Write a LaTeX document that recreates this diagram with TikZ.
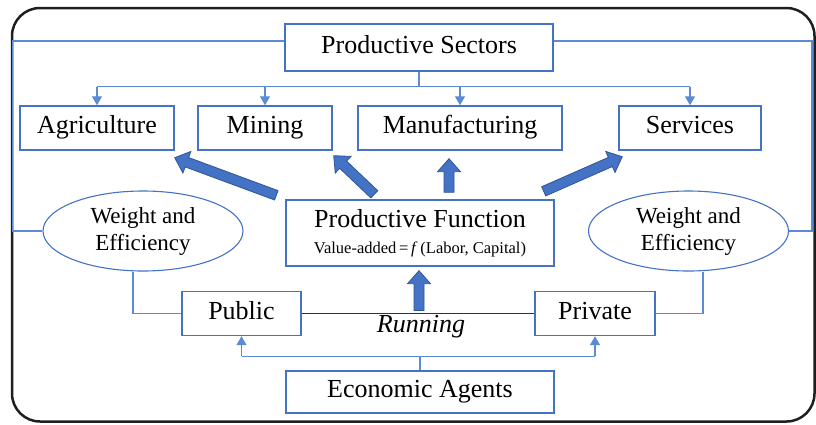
\documentclass[tikz,border=0pt]{standalone}
\usepackage{fontspec}
\setmainfont{Liberation Serif}
\usetikzlibrary{shapes.geometric,calc,arrows.meta}
\definecolor{boxblue}{HTML}{4472C4}
\definecolor{lineblue}{HTML}{5B8BD5}
\definecolor{darkblue}{HTML}{2F5597}
\newcommand\fatarrow[2]{%
  \path let \p1=($(#2)-(#1)$), \n1={veclen(\x1,\y1)}, \n2={atan2(\y1,\x1)} in
    \pgfextra{\xdef\fatlen{\n1}\xdef\fatang{\n2}};
  \begin{scope}[shift={(#1)}, rotate=\fatang]
    \filldraw[fatstyle] (0pt,5pt) -- ({(\fatlen-13)*1pt},5pt) -- ({(\fatlen-13)*1pt},11.5pt)
      -- ({\fatlen*1pt},0pt) -- ({(\fatlen-13)*1pt},-11.5pt) -- ({(\fatlen-13)*1pt},-5pt)
      -- (0pt,-5pt) -- cycle;
  \end{scope}}
\begin{document}
\begin{tikzpicture}[x=1pt,y=-1pt,
  box/.style={draw=boxblue, line width=1.4pt, fill=white, inner sep=0pt,
    font=\fontsize{26}{30}\selectfont},
  lbl/.style={box, text height=17pt, text depth=6pt},
  ell/.style={ellipse, draw=boxblue, line width=1.1pt, fill=white, inner sep=0pt,
    align=center, font=\fontsize{23}{27}\selectfont,
    minimum width=200pt, minimum height=80pt},
  conn/.style={draw=lineblue, line width=1.3pt},
  conarr/.style={conn, -{Triangle[width=10pt,length=9pt]}},
  fatstyle/.style={draw=darkblue, fill=boxblue, line width=0.8pt, line join=miter},
  darkline/.style={draw=black!80, line width=1.1pt}
]
\useasboundingbox (0,0) rectangle (816,424);
\draw[line width=2.5pt, black!88, rounded corners=28pt] (12,8) rectangle (814.5,421.5);

% nodes
\node[lbl, minimum width=268pt, minimum height=47pt] (ps) at (419,47.5) {Productive Sectors};
\node[lbl, minimum width=154pt, minimum height=44pt] (agri) at (97,128) {Agriculture};
\node[lbl, minimum width=134pt, minimum height=44pt] (mining) at (265,128) {Mining};
\node[lbl, minimum width=204pt, minimum height=44pt] (manu) at (460,128) {Manufacturing};
\node[lbl, minimum width=142pt, minimum height=44pt] (serv) at (690,128) {Services};
\node[box, minimum width=268pt, minimum height=66pt, align=center] (pf) at (420,233)
  {Productive Function\\[-4pt]{\fontsize{16.5}{18}\selectfont Value-added\,=\,\textit{f}\,(Labor, Capital)}};
\node[ell] (wl) at (143,231) {Weight and\\Efficiency};
\node[ell] (wr) at (688.5,231) {Weight and\\Efficiency};
\node[lbl, minimum width=119pt, minimum height=44pt] (pub) at (241.5,313.5) {Public};
\node[lbl, minimum width=120pt, minimum height=44pt] (priv) at (595,313.5) {Private};
\node[lbl, minimum width=268pt, minimum height=42pt] (ea) at (420,392) {Economic Agents};
\node[font=\fontsize{26}{30}\selectfont\itshape, inner sep=0pt] (run) at (421,327) {Running};

% top distribution
\coordinate (bus) at ($(ps.south)+(0,15)$);
\draw[conn] (ps.south) -- (bus);
\draw[conn] (bus -| agri.north) -- (bus -| serv.north);
\draw[conarr] (bus -| agri.north) -- (agri.north);
\draw[conarr] (bus -| mining.north) -- (mining.north);
\draw[conarr] (bus -| manu.north) -- (manu.north);
\draw[conarr] (bus -| serv.north) -- (serv.north);

% side loops
\draw[conn] ([yshift=6.5pt]ps.west) -| ([xshift=-30pt]wl.west) -- (wl.west);
\draw[conn] ([yshift=6.5pt]ps.east) -| ([xshift=23pt]wr.east) -- (wr.east);
\draw[conn] ([xshift=-10pt]wl.south) |- (pub.west);
\draw[conn] (priv.east) -| ([xshift=14.5pt]wr.south);

% running line
\draw[darkline] (pub.east) -- (priv.west);

% agents distribution
\coordinate (abus) at ($(ea.north)+(0,-14)$);
\draw[conn] (ea.north) -- (abus);
\draw[conn] (abus -| pub.south) -- (abus -| priv.south);
\draw[conarr] (abus -| pub.south) -- (pub.south);
\draw[conarr] (abus -| priv.south) -- (priv.south);

% fat arrows
\coordinate (mid) at ($(pub.east)!0.5!(priv.west)$);
\coordinate (f1a) at ($(pf.north west)+(-9,-4)$);
\coordinate (f1b) at ($(agri.south east)+(0,7)$);
\coordinate (f2a) at ($(pf.north west)+(89,-5)$);
\coordinate (f2b) at ($(mining.south east)+(1,5)$);
\coordinate (f3a) at ($(pf.north)+(29,-7)$);
\coordinate (f3b) at ($(manu.south)+(-11,8)$);
\coordinate (f4a) at ($(pf.north east)+(-11,-8)$);
\coordinate (f4b) at ($(serv.south west)+(4,6)$);
\coordinate (f5a) at ($(mid)+(1,-3)$);
\coordinate (f5b) at ($(pf.south)+(-1,4)$);
\fatarrow{f1a}{f1b}
\fatarrow{f2a}{f2b}
\fatarrow{f3a}{f3b}
\fatarrow{f4a}{f4b}
\fatarrow{f5a}{f5b}
\end{tikzpicture}
\end{document}
